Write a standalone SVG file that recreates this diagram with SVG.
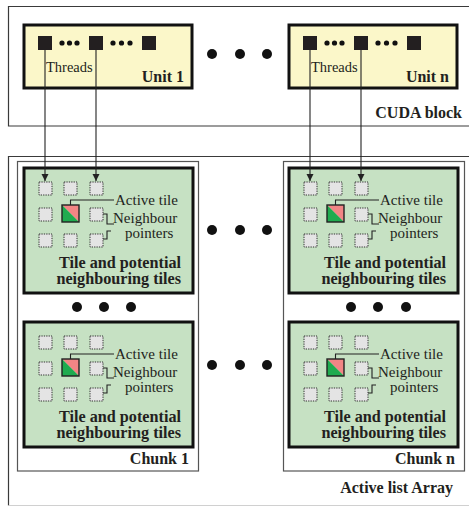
<svg xmlns="http://www.w3.org/2000/svg" width="469" height="507" viewBox="0 0 469 507">
<defs>
<style>
.frame{fill:none;stroke:#3a3a3a;stroke-width:1.2}
.chunk{fill:#fff;stroke:#555;stroke-width:1.2}
.unit{fill:#fbf7c9;stroke:#111;stroke-width:3}
.green{fill:#c6e1c3;stroke:#111;stroke-width:3}
.sq{fill:#231f20}
.dot{fill:#111}
.tile{fill:#e4e4e4;stroke:#333;stroke-width:1;stroke-dasharray:1.3 1.1}
.ln{fill:none;stroke:#222;stroke-width:1.1}
.conn{fill:none;stroke:#222;stroke-width:1.1}
.t{font-family:"Liberation Serif","Times New Roman",serif;fill:#231f20}
.n{font-size:15px}
.b{font-size:16px;font-weight:bold}
.bb{font-size:16.2px;font-weight:bold}
</style>
<marker id="arr" markerUnits="userSpaceOnUse" markerWidth="8" markerHeight="8" refX="7" refY="3.5" orient="auto">
<path d="M0,0 L7,3.5 L0,7 z" fill="#222"/>
</marker>
</defs>
<rect width="469" height="507" fill="#fff"/>

<g id="cuda-block">
<path class="frame" d="M470,6.5 H8.5 V126 H470"/>
<text class="t b" x="462" y="118" text-anchor="end">CUDA block</text>
</g>

<g id="active-list-array">
<path class="frame" d="M470,156.5 H8.5 V505.5"/>
<path d="M8.5,505.5 H470" stroke="#d0d0d0" stroke-width="1" fill="none"/>
<text class="t b" x="453" y="493" text-anchor="end">Active list Array</text>
</g>

<g id="unit-1" transform="translate(24,25)">
<rect class="unit" x="0" y="0" width="168" height="63"/>
<rect class="sq" x="14" y="11" width="14" height="14"/>
<rect class="sq" x="65" y="11" width="14" height="14"/>
<rect class="sq" x="118" y="11" width="14" height="14"/>
<circle class="dot" cx="38" cy="18" r="2.6"/><circle class="dot" cx="45.5" cy="18" r="2.6"/><circle class="dot" cx="53" cy="18" r="2.6"/>
<circle class="dot" cx="89" cy="18" r="2.6"/><circle class="dot" cx="97.5" cy="18" r="2.6"/><circle class="dot" cx="106" cy="18" r="2.6"/>
<text class="t" x="22" y="47" font-size="14.5">Threads</text>
<text class="t b" x="160" y="57" text-anchor="end">Unit 1</text>
</g>

<g id="unit-n" transform="translate(289,25)">
<rect class="unit" x="0" y="0" width="168" height="63"/>
<rect class="sq" x="14" y="11" width="14" height="14"/>
<rect class="sq" x="65" y="11" width="14" height="14"/>
<rect class="sq" x="118" y="11" width="14" height="14"/>
<circle class="dot" cx="38" cy="18" r="2.6"/><circle class="dot" cx="45.5" cy="18" r="2.6"/><circle class="dot" cx="53" cy="18" r="2.6"/>
<circle class="dot" cx="89" cy="18" r="2.6"/><circle class="dot" cx="97.5" cy="18" r="2.6"/><circle class="dot" cx="106" cy="18" r="2.6"/>
<text class="t" x="22" y="47" font-size="14.5">Threads</text>
<text class="t b" x="160" y="57" text-anchor="end">Unit n</text>
</g>

<g id="unit-ellipsis">
<circle class="dot" cx="212" cy="54" r="5"/><circle class="dot" cx="240" cy="54" r="5"/><circle class="dot" cx="267" cy="54" r="5"/>
</g>

<g id="chunk-1">
<rect class="chunk" x="17.5" y="161.5" width="181" height="309.5"/>
<text class="t b" x="189" y="464" text-anchor="end">Chunk 1</text>
<circle class="dot" cx="77" cy="307" r="5"/><circle class="dot" cx="104" cy="307" r="5"/><circle class="dot" cx="131" cy="307" r="5"/>
</g>

<g id="chunk-n">
<rect class="chunk" x="283.5" y="161.5" width="181" height="309.5"/>
<text class="t b" x="455" y="464" text-anchor="end">Chunk n</text>
<circle class="dot" cx="351" cy="307" r="5"/><circle class="dot" cx="378" cy="307" r="5"/><circle class="dot" cx="406" cy="307" r="5"/>
</g>

<g id="chunk-ellipsis">
<circle class="dot" cx="212" cy="230" r="5"/><circle class="dot" cx="240" cy="230" r="5"/><circle class="dot" cx="267" cy="230" r="5"/>
<circle class="dot" cx="212" cy="365" r="5"/><circle class="dot" cx="240" cy="365" r="5"/><circle class="dot" cx="267" cy="365" r="5"/>
</g>

<g id="tiles-1-top" transform="translate(24,168)">
<rect class="green" x="0" y="0" width="169" height="125"/>
<rect class="tile" x="15" y="14" width="13" height="13"/><rect class="tile" x="40" y="14" width="13" height="13"/><rect class="tile" x="66" y="14" width="13" height="13"/>
<rect class="tile" x="15" y="40" width="13" height="13"/><rect class="tile" x="66" y="40" width="13" height="13"/>
<rect class="tile" x="15" y="66" width="13" height="13"/><rect class="tile" x="40" y="66" width="13" height="13"/><rect class="tile" x="66" y="66" width="13" height="13"/>
<polygon points="38,37 55,37 55,54" fill="#f28585"/><polygon points="38,37 38,54 55,54" fill="#1fab4f"/>
<rect x="38" y="37" width="17" height="17" fill="none" stroke="#222" stroke-width="1.4"/>
<path class="ln" d="M46.5,37 V32 H90"/>
<path class="ln" d="M79,46 H83 V56 H90"/>
<path class="ln" d="M79,71 H83 V63 H87"/>
<text class="t n" x="91" y="37">Active tile</text>
<text class="t n" x="89" y="55">Neighbour</text>
<text class="t n" x="101" y="70">pointers</text>
<text class="t bb" x="157" y="99.5" text-anchor="end">Tile and potential</text>
<text class="t bb" x="157" y="115.5" text-anchor="end">neighbouring tiles</text>
</g>

<g id="tiles-1-bottom" transform="translate(24,322)">
<rect class="green" x="0" y="0" width="169" height="125"/>
<rect class="tile" x="15" y="14" width="13" height="13"/><rect class="tile" x="40" y="14" width="13" height="13"/><rect class="tile" x="66" y="14" width="13" height="13"/>
<rect class="tile" x="15" y="40" width="13" height="13"/><rect class="tile" x="66" y="40" width="13" height="13"/>
<rect class="tile" x="15" y="66" width="13" height="13"/><rect class="tile" x="40" y="66" width="13" height="13"/><rect class="tile" x="66" y="66" width="13" height="13"/>
<polygon points="38,37 55,37 55,54" fill="#f28585"/><polygon points="38,37 38,54 55,54" fill="#1fab4f"/>
<rect x="38" y="37" width="17" height="17" fill="none" stroke="#222" stroke-width="1.4"/>
<path class="ln" d="M46.5,37 V32 H90"/>
<path class="ln" d="M79,46 H83 V56 H90"/>
<path class="ln" d="M79,71 H83 V63 H87"/>
<text class="t n" x="91" y="37">Active tile</text>
<text class="t n" x="89" y="55">Neighbour</text>
<text class="t n" x="101" y="70">pointers</text>
<text class="t bb" x="157" y="99.5" text-anchor="end">Tile and potential</text>
<text class="t bb" x="157" y="115.5" text-anchor="end">neighbouring tiles</text>
</g>

<g id="tiles-n-top" transform="translate(289,168)">
<rect class="green" x="0" y="0" width="169" height="125"/>
<rect class="tile" x="15" y="14" width="13" height="13"/><rect class="tile" x="40" y="14" width="13" height="13"/><rect class="tile" x="66" y="14" width="13" height="13"/>
<rect class="tile" x="15" y="40" width="13" height="13"/><rect class="tile" x="66" y="40" width="13" height="13"/>
<rect class="tile" x="15" y="66" width="13" height="13"/><rect class="tile" x="40" y="66" width="13" height="13"/><rect class="tile" x="66" y="66" width="13" height="13"/>
<polygon points="38,37 55,37 55,54" fill="#f28585"/><polygon points="38,37 38,54 55,54" fill="#1fab4f"/>
<rect x="38" y="37" width="17" height="17" fill="none" stroke="#222" stroke-width="1.4"/>
<path class="ln" d="M46.5,37 V32 H90"/>
<path class="ln" d="M79,46 H83 V56 H90"/>
<path class="ln" d="M79,71 H83 V63 H87"/>
<text class="t n" x="91" y="37">Active tile</text>
<text class="t n" x="89" y="55">Neighbour</text>
<text class="t n" x="101" y="70">pointers</text>
<text class="t bb" x="157" y="99.5" text-anchor="end">Tile and potential</text>
<text class="t bb" x="157" y="115.5" text-anchor="end">neighbouring tiles</text>
</g>

<g id="tiles-n-bottom" transform="translate(289,322)">
<rect class="green" x="0" y="0" width="169" height="125"/>
<rect class="tile" x="15" y="14" width="13" height="13"/><rect class="tile" x="40" y="14" width="13" height="13"/><rect class="tile" x="66" y="14" width="13" height="13"/>
<rect class="tile" x="15" y="40" width="13" height="13"/><rect class="tile" x="66" y="40" width="13" height="13"/>
<rect class="tile" x="15" y="66" width="13" height="13"/><rect class="tile" x="40" y="66" width="13" height="13"/><rect class="tile" x="66" y="66" width="13" height="13"/>
<polygon points="38,37 55,37 55,54" fill="#f28585"/><polygon points="38,37 38,54 55,54" fill="#1fab4f"/>
<rect x="38" y="37" width="17" height="17" fill="none" stroke="#222" stroke-width="1.4"/>
<path class="ln" d="M46.5,37 V32 H90"/>
<path class="ln" d="M79,46 H83 V56 H90"/>
<path class="ln" d="M79,71 H83 V63 H87"/>
<text class="t n" x="91" y="37">Active tile</text>
<text class="t n" x="89" y="55">Neighbour</text>
<text class="t n" x="101" y="70">pointers</text>
<text class="t bb" x="157" y="99.5" text-anchor="end">Tile and potential</text>
<text class="t bb" x="157" y="115.5" text-anchor="end">neighbouring tiles</text>
</g>

<g id="connectors">
<line class="conn" x1="45" y1="50" x2="45" y2="181" marker-end="url(#arr)"/>
<line class="conn" x1="96" y1="50" x2="96" y2="181" marker-end="url(#arr)"/>
<line class="conn" x1="310" y1="50" x2="310" y2="181" marker-end="url(#arr)"/>
<line class="conn" x1="361" y1="50" x2="361" y2="181" marker-end="url(#arr)"/>
</g>
</svg>
